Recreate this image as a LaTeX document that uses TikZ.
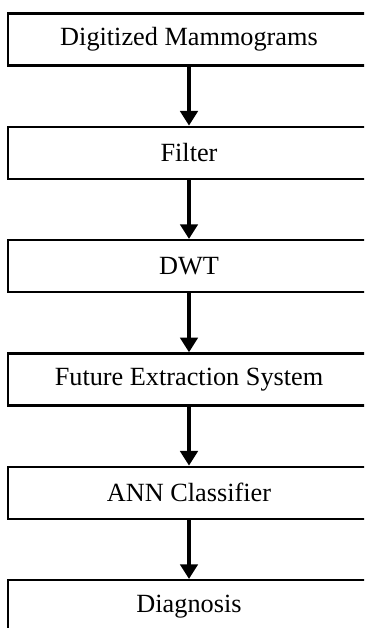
\documentclass[tikz,border=0pt]{standalone}
\usepackage{fontspec}
\setmainfont{Liberation Serif}
\usetikzlibrary{arrows.meta}
\tikzstyle{block} = [rectangle, minimum width=271.5pt, minimum height=39pt, text centered, draw=black, line width=1.8pt, font=\fontsize{19.7}{23}\selectfont]
\tikzstyle{arrow} = [line width=2.7pt, -{Triangle[width=13pt,length=11pt]}]

\begin{document}
\begin{tikzpicture}[x=0.75pt, y=0.75pt, node distance=85pt]
\useasboundingbox (0,0) rectangle (364,628);
\clip (0,0) rectangle (364,628);

\node (digit) [block] at (189,588.5) {Digitized Mammograms};
\node (filter) [block, below of=digit] {Filter};
\node (dwt) [block, below of=filter] {DWT};
\node (feat) [block, below of=dwt] {Future Extraction System};
\node (ann) [block, below of=feat] {ANN Classifier};
\node (diag) [block, below of=ann] {Diagnosis};

\draw [arrow] (digit) -- (filter);
\draw [arrow] (filter) -- (dwt);
\draw [arrow] (dwt) -- (feat);
\draw [arrow] (feat) -- (ann);
\draw [arrow] (ann) -- (diag);

\end{tikzpicture}
\end{document}
